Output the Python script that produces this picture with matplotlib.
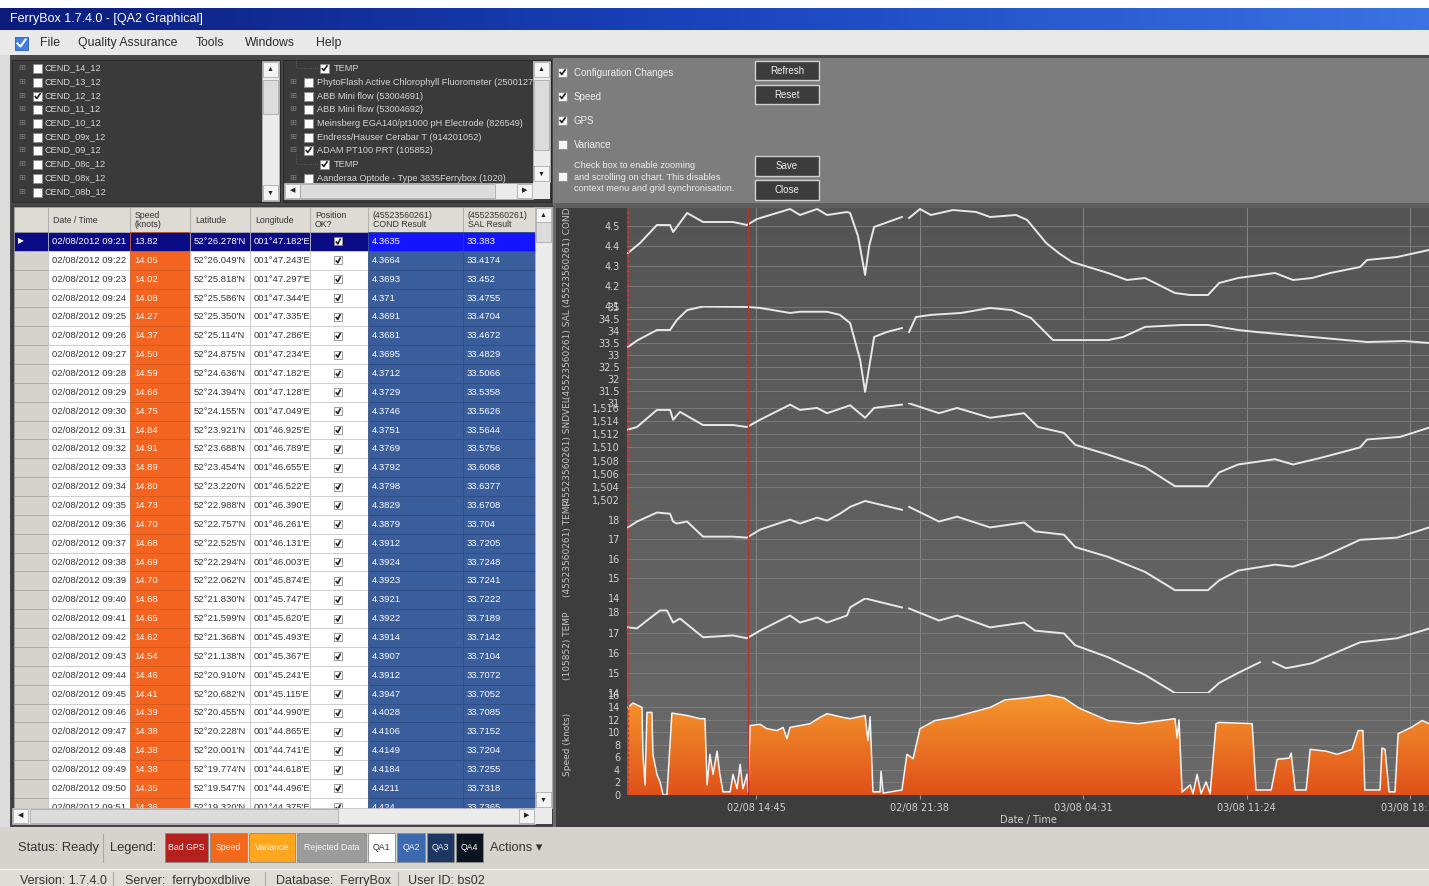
import numpy as np
import matplotlib
matplotlib.use("Agg")
import matplotlib.pyplot as plt
from matplotlib.patches import Rectangle
from matplotlib.colors import LinearSegmentedColormap
from matplotlib.ticker import FuncFormatter

nan = np.nan

# ---------------- chart data (time = hours since 02/08/2012 00:00) ----------------
cond_t = [9.36, 9.87, 10.58, 11.13, 11.26, 11.85, 12.52, 13.78, 14.37, 14.79, 16.18, 16.6,
          17.32, 17.74, 18.58, 18.71, 19.04, 19.34, 19.51, 19.72, 20.89, 21.0, 21.19, 21.65,
          22.11, 23.04, 24.01, 24.6, 25.69, 26.16, 26.96, 27.54, 28.05, 29.56, 30.36, 31.12,
          32.38, 33.02, 33.77, 34.24, 35.04, 36.59, 37.35, 38.15, 38.91, 40.17, 40.46, 41.73, 43.07]
cond_v = [4.365, 4.415, 4.505, 4.505, 4.47, 4.565, 4.52, 4.52, 4.505, 4.535, 4.585, 4.555,
          4.585, 4.555, 4.57, 4.565, 4.45, 4.255, 4.40, 4.495, 4.545, nan, 4.54, 4.585,
          4.555, 4.58, 4.57, 4.545, 4.555, 4.53, 4.415, 4.36, 4.32, 4.265, 4.23, 4.24,
          4.165, 4.155, 4.155, 4.215, 4.24, 4.265, 4.23, 4.24, 4.265, 4.295, 4.33, 4.345, 4.38]

sal_t = [9.36, 9.74, 10.58, 11.13, 11.42, 11.85, 12.52, 14.37, 14.92, 16.18, 16.6, 17.74,
         18.28, 18.71, 19.13, 19.34, 19.72, 20.26, 20.89, 21.0, 21.19, 21.48, 22.11, 23.38,
         24.6, 25.52, 26.32, 27.25, 28.05, 29.56, 30.2, 31.12, 32.68, 33.77, 35.04, 35.79,
         38.15, 40.46, 42.03, 43.07]
sal_v = [33.33, 33.6, 34.04, 34.04, 34.46, 34.87, 35.02, 35.0, 34.96, 34.75, 34.8, 34.8,
         34.67, 34.33, 32.8, 31.46, 33.75, 33.96, 34.12, nan, 33.96, 34.58, 34.67, 34.75,
         34.96, 34.87, 34.54, 33.62, 33.62, 33.62, 33.75, 34.17, 34.25, 34.25, 34.04, 33.96,
         33.75, 33.54, 33.58, 33.5]

sndvel_t = [9.36, 9.74, 10.58, 11.13, 11.26, 11.55, 12.52, 13.78, 14.37, 14.92, 16.18, 16.6,
            17.32, 17.74, 18.71, 19.34, 19.72, 20.89, 21.0, 21.19, 22.45, 23.21, 24.6, 26.03,
            26.62, 27.71, 28.18, 29.56, 31.12, 32.38, 33.77, 34.24, 35.04, 36.59, 37.35, 38.61,
            40.17, 40.46, 41.86, 43.07]
sndvel_v = [1512.7, 1513.1, 1515.7, 1515.7, 1514.2, 1515.4, 1513.4, 1513.4, 1513.1, 1514.2,
            1516.5, 1515.7, 1516.0, 1515.2, 1516.4, 1514.5, 1516.0, 1516.5, nan, 1516.7,
            1515.2, 1516.0, 1514.5, 1515.2, 1513.1, 1512.2, 1510.4, 1508.9, 1507.0, 1504.1,
            1504.1, 1506.2, 1507.4, 1508.2, 1507.4, 1508.5, 1510.0, 1511.2, 1511.6, 1513.0]

temp1_t = [9.36, 9.74, 10.58, 11.13, 11.26, 11.42, 11.85, 12.52, 13.78, 14.37, 14.92, 16.18,
           16.6, 17.32, 17.74, 18.28, 18.71, 19.34, 20.89, 21.0, 21.19, 22.45, 23.21, 24.6,
           26.03, 26.49, 27.71, 28.18, 29.56, 31.12, 32.38, 33.77, 34.24, 35.04, 36.59, 37.35,
           38.61, 40.17, 41.73, 43.07]
temp1_v = [17.6, 17.9, 18.36, 18.3, 17.9, 17.8, 17.9, 17.13, 17.13, 17.08, 17.49, 18.0,
           17.8, 18.1, 17.95, 18.3, 18.65, 18.95, 18.5, nan, 18.65, 17.9, 18.15, 17.6,
           17.85, 17.4, 17.23, 16.6, 16.1, 15.33, 14.4, 14.4, 14.9, 15.4, 15.7, 15.6,
           16.1, 16.97, 17.08, 17.6]

temp2_t = [9.36, 9.74, 10.16, 10.71, 11.0, 11.26, 11.55, 12.52, 13.78, 14.37, 14.92, 16.18,
           16.6, 17.32, 17.74, 18.58, 18.71, 19.34, 20.89, 21.0, 21.19, 22.45, 23.21, 24.6,
           26.03, 26.49, 27.71, 28.18, 29.56, 31.12, 32.38, 33.77, 34.24, 35.04, 35.96, 36.2,
           36.51, 37.06, 38.15, 38.61, 40.17, 41.73, 43.07]
temp2_v = [17.26, 17.21, 17.6, 18.1, 18.1, 17.5, 17.7, 16.77, 16.86, 16.72, 17.1, 17.85,
           17.5, 17.75, 17.5, 17.85, 18.25, 18.7, 18.25, nan, 18.2, 17.6, 17.85, 17.26,
           17.5, 17.1, 16.96, 16.37, 15.78, 14.9, 14.0, 14.0, 14.5, 15.0, 15.53, nan,
           15.53, 15.23, 15.48, 15.73, 16.52, 16.72, 17.2]

speed_t = [9.36, 9.57, 9.95, 9.99, 10.08, 10.16, 10.37, 10.41, 10.58, 10.71, 10.84, 11.0,
           11.21, 11.85, 12.39, 12.6, 12.69, 12.81, 12.94, 13.11, 13.23, 13.36, 13.66, 13.78,
           13.95, 14.08, 14.2, 14.37, 14.41, 14.5, 14.92, 15.21, 15.63, 15.89, 16.05, 16.18,
           17.02, 17.44, 17.74, 18.41, 18.71, 19.34, 19.46, 19.55, 19.67, 19.97, 20.01, 20.1,
           20.89, 21.1, 21.36, 21.65, 22.28, 23.04, 24.6, 25.23, 26.03, 27.08, 27.71, 28.34,
           29.56, 30.83, 32.38, 32.47, 32.55, 32.68, 33.02, 33.14, 33.31, 33.48, 33.69, 33.86,
           34.11, 34.24, 35.63, 35.79, 36.43, 36.68, 37.19, 37.27, 37.44, 37.9, 38.07, 38.74,
           39.2, 39.83, 40.09, 40.29, 40.37, 41.01, 41.09, 41.22, 41.39, 41.64, 41.77, 42.32,
           42.78, 43.07]
speed_v = [14.0, 14.7, 14.0, 6.5, 1.6, 13.2, 13.2, 6.5, 3.3, 2.1, 0.0, 0.0,
           13.1, 12.7, 12.2, 12.2, 1.6, 6.5, 3.3, 7.0, 3.3, 0.5, 0.5, 3.3,
           1.0, 4.9, 1.0, 3.3, 0.5, 11.1, 11.3, 10.6, 10.3, 10.8, 9.0, 10.8,
           11.4, 12.4, 13.0, 12.4, 12.2, 12.7, 8.7, 12.5, 0.5, 0.5, 3.8, 0.3,
           0.8, 6.5, 5.8, 10.6, 11.9, 12.4, 14.0, 15.2, 15.5, 16.0, 15.5, 13.9,
           11.9, 11.4, 12.2, 9.1, 12.0, 0.5, 1.6, 0.2, 3.3, 0.2, 2.1, 0.2,
           11.4, 11.6, 11.4, 0.8, 0.8, 5.7, 5.9, 6.7, 0.8, 0.8, 7.3, 7.0,
           6.5, 7.3, 10.3, 10.3, 0.8, 0.8, 7.5, 7.3, 0.5, 0.5, 9.8, 10.8,
           11.9, 11.4]

config_change_t = [9.36, 14.4]
xtick_t = [14.75, 21.633, 28.517, 35.4, 42.283]
xtick_labels = ["02/08 14:45", "02/08 21:38", "03/08 04:31", "03/08 11:24", "03/08 18:17"]
t_start, t_end = 9.32, 43.07

# ---------------- table data ----------------
tbl_time = ["02/08/2012 09:%02d" % m for m in range(21, 52)]
tbl_speed = [13.82, 14.05, 14.02, 14.08, 14.27, 14.37, 14.50, 14.59, 14.66, 14.75, 14.84,
             14.91, 14.89, 14.80, 14.73, 14.70, 14.68, 14.69, 14.70, 14.68, 14.65, 14.62,
             14.54, 14.46, 14.41, 14.39, 14.38, 14.38, 14.38, 14.35, 14.36]
tbl_lat = ["52°26.278'N", "52°26.049'N", "52°25.818'N", "52°25.586'N", "52°25.350'N",
           "52°25.114'N", "52°24.875'N", "52°24.636'N", "52°24.394'N", "52°24.155'N",
           "52°23.921'N", "52°23.688'N", "52°23.454'N", "52°23.220'N", "52°22.988'N",
           "52°22.757'N", "52°22.525'N", "52°22.294'N", "52°22.062'N", "52°21.830'N",
           "52°21.599'N", "52°21.368'N", "52°21.138'N", "52°20.910'N", "52°20.682'N",
           "52°20.455'N", "52°20.228'N", "52°20.001'N", "52°19.774'N", "52°19.547'N",
           "52°19.320'N"]
tbl_lon = ["001°47.182'E", "001°47.243'E", "001°47.297'E", "001°47.344'E", "001°47.335'E",
           "001°47.286'E", "001°47.234'E", "001°47.182'E", "001°47.128'E", "001°47.049'E",
           "001°46.925'E", "001°46.789'E", "001°46.655'E", "001°46.522'E", "001°46.390'E",
           "001°46.261'E", "001°46.131'E", "001°46.003'E", "001°45.874'E", "001°45.747'E",
           "001°45.620'E", "001°45.493'E", "001°45.367'E", "001°45.241'E", "001°45.115'E",
           "001°44.990'E", "001°44.865'E", "001°44.741'E", "001°44.618'E", "001°44.496'E",
           "001°44.375'E"]
tbl_cond = ["4.3635", "4.3664", "4.3693", "4.371", "4.3691", "4.3681", "4.3695", "4.3712",
            "4.3729", "4.3746", "4.3751", "4.3769", "4.3792", "4.3798", "4.3829", "4.3879",
            "4.3912", "4.3924", "4.3923", "4.3921", "4.3922", "4.3914", "4.3907", "4.3912",
            "4.3947", "4.4028", "4.4106", "4.4149", "4.4184", "4.4211", "4.424"]
tbl_sal = ["33.383", "33.4174", "33.452", "33.4755", "33.4704", "33.4672", "33.4829",
           "33.5066", "33.5358", "33.5626", "33.5644", "33.5756", "33.6068", "33.6377",
           "33.6708", "33.704", "33.7205", "33.7248", "33.7241", "33.7222", "33.7189",
           "33.7142", "33.7104", "33.7072", "33.7052", "33.7085", "33.7152", "33.7204",
           "33.7255", "33.7318", "33.7365"]

runs = ["CEND_14_12", "CEND_13_12", "CEND_12_12", "CEND_11_12", "CEND_10_12",
        "CEND_09x_12", "CEND_09_12", "CEND_08c_12", "CEND_08x_12", "CEND_08b_12"]
runs_checked = [False, False, True, False, False, False, False, False, False, False]
sensors = ["TEMP", "PhytoFlash Active Chlorophyll Fluorometer (2500127)",
           "ABB Mini flow (53004691)", "ABB Mini flow (53004692)",
           "Meinsberg EGA140/pt1000 pH Electrode (826549)",
           "Endress/Hauser Cerabar T (914201052)", "ADAM PT100 PRT (105852)", "TEMP",
           "Aanderaa Optode - Type 3835Ferrybox (1020)"]
sensors_indent = [1, 0, 0, 0, 0, 0, 0, 1, 0]
sensors_checked = [True, False, False, False, False, False, True, True, False]

legend_names = ["Bad GPS", "Speed", "Variance", "Rejected Data", "QA1", "QA2", "QA3", "QA4"]
legend_colors = ["#b3201d", "#f2691c", "#ffa61f", "#9c9c9c", "#ffffff", "#3d69ae", "#1d3662", "#0c1422"]

# ---------------- figure / pixel helpers ----------------
W, H = 1429, 886
UI = ["Liberation Sans", "DejaVu Sans"]
fig = plt.figure(figsize=(W / 100, H / 100), dpi=100)
ui = fig.add_axes([0, 0, 1, 1])
ui.axis("off")


def rect(x0, y0, x1, y1, fc, ec="none", lw=0.0, z=1):
    ui.add_patch(Rectangle((x0, y0), x1 - x0, y1 - y0, facecolor=fc,
                           edgecolor=ec, linewidth=lw, zorder=z))


def txt(x, y, s, size=7, color="#222222", ha="left", z=5, **kw):
    ui.text(x, y, s, fontsize=size, color=color, ha=ha, va="center",
            zorder=z, family=UI, **kw)


def checkbox(x, y, checked, s=9, z=5, fc="white"):
    rect(x, y - s / 2, x + s, y + s / 2, fc, ec="#8a8a8a", lw=0.6, z=z)
    if checked:
        ui.plot([x + 1.8, x + 3.8, x + s - 1.5], [y, y + 2.5, y - 2.8],
                color="#222222", lw=1.2, zorder=z + 0.1, solid_capstyle="butt")


def vscroll(x0, y0, x1, y1, thumb, z=6):
    rect(x0, y0, x1, y1, "#ebebeb", ec="#b8b8b8", lw=0.5, z=z)
    rect(x0 + 1, y0 + 1, x1 - 1, y0 + 16, "#f4f4f4", ec="#a0a0a0", lw=0.5, z=z)
    rect(x0 + 1, y1 - 16, x1 - 1, y1 - 1, "#f4f4f4", ec="#a0a0a0", lw=0.5, z=z)
    rect(x0 + 1, thumb[0], x1 - 1, thumb[1], "#dcdcdc", ec="#a0a0a0", lw=0.5, z=z)
    cx = (x0 + x1) / 2
    txt(cx, y0 + 8.5, "▲", size=5, ha="center", z=z + 1)
    txt(cx, y1 - 8, "▼", size=5, ha="center", z=z + 1)


def hscroll(x0, y0, x1, y1, thumb, z=6):
    rect(x0, y0, x1, y1, "#ebebeb", ec="#b8b8b8", lw=0.5, z=z)
    rect(x0 + 1, y0 + 1, x0 + 16, y1 - 1, "#f4f4f4", ec="#a0a0a0", lw=0.5, z=z)
    rect(x1 - 16, y0 + 1, x1 - 1, y1 - 1, "#f4f4f4", ec="#a0a0a0", lw=0.5, z=z)
    rect(thumb[0], y0 + 1, thumb[1], y1 - 1, "#dcdcdc", ec="#a0a0a0", lw=0.5, z=z)
    cy = (y0 + y1) / 2
    txt(x0 + 8.5, cy, "◀", size=5, ha="center", z=z + 1)
    txt(x1 - 8.5, cy, "▶", size=5, ha="center", z=z + 1)


# ---------------- window chrome ----------------
rect(0, 0, W, H, "white", z=0)
title_cmap = LinearSegmentedColormap.from_list("tb", ["#0b1c7c", "#1a44bd", "#3b73e2"])
ui.imshow(np.linspace(0, 1, 256).reshape(1, -1), extent=[0, W, 30, 8], cmap=title_cmap,
          aspect="auto", zorder=0.5)
txt(10, 19, "FerryBox 1.7.4.0 - [QA2 Graphical]", size=9, color="white")
rect(0, 30, W, 55, "#e9e9e9")
rect(15, 37, 28, 50, "#3f7fe0", ec="#2a5cb0", lw=0.6, z=2)
ui.plot([17.5, 20.5, 25.5], [43.5, 46.5, 39.5], color="white", lw=1.5, zorder=3)
for label, x in zip(["File", "Quality Assurance", "Tools", "Windows", "Help"],
                    [40, 78, 196, 245, 316]):
    txt(x, 43, label, size=8.8, color="#2a2a2a")

rect(0, 55, W, 828, "#4a4a4a")
rect(0, 55, 10, 828, "#dcdcdc")

# top-left run tree
rect(12, 60, 280, 202, "#3a3a3a", ec="#2a2a2a", lw=0.8)
tree_y = [68, 82, 96, 109, 123, 137, 150, 164, 178, 192]
for name, chk, y in zip(runs, runs_checked, tree_y):
    txt(22, y, "⊞", size=6, color="#7a7a7a", ha="center")
    checkbox(33, y, chk)
    txt(45, y, name, size=6.6, color="#d6d6d6")
vscroll(262, 61, 279, 201, (80, 114))

# top-middle sensor tree
rect(283, 60, 551, 202, "#3a3a3a", ec="#2a2a2a", lw=0.8)
for name, ind, chk, y in zip(sensors, sensors_indent, sensors_checked, tree_y[:9]):
    if ind:
        ui.plot([296, 296, 318], [y - 10, y, y], color="#666666", lw=0.6, ls=":", zorder=4)
        checkbox(320, y, chk)
        txt(334, y, name, size=6.6, color="#d6d6d6")
    else:
        txt(293, y, "⊟" if chk else "⊞", size=6, color="#7a7a7a", ha="center")
        checkbox(304, y, chk)
        txt(317, y, name, size=6.6, color="#d6d6d6")
vscroll(533, 61, 550, 182, (80, 150), z=6)
hscroll(284, 183, 533, 199, (300, 495), z=6)
rect(533, 182, 550, 199, "#ebebeb", z=6)

# top-right options panel
rect(553, 58, W, 203, "#7d7d7d")
for label, chk, y in zip(["Configuration Changes", "Speed", "GPS", "Variance"],
                         [True, True, True, False], [72, 96, 120, 144]):
    checkbox(558, y, chk, fc="#f4f4f4")
    txt(574, y + 1, label, size=7, color="#eeeeee")
checkbox(558, 176, False, fc="#f4f4f4")
txt(574, 177, "Check box to enable zooming\nand scrolling on chart. This disables\n"
    "context menu and grid synchronisation.", size=6.6, color="#eeeeee", linespacing=1.3)
for label, y0, y1 in [("Refresh", 61, 80), ("Reset", 85, 104), ("Save", 156, 176), ("Close", 180, 200)]:
    rect(755, y0, 819, y1, "#3c3c3c", ec="#d0d0d0", lw=1.0, z=3)
    txt(787, (y0 + y1) / 2, label, size=7, color="#f0f0f0", ha="center")

# ---------------- data table ----------------
rect(11, 205, 553, 826, "#404040")
col_edges = [14, 48, 130, 190, 250, 310, 368, 463, 535]
headers = ["", "Date / Time", "Speed\n(knots)", "Latitude", "Longitude", "Position\nOK?",
           "(45523560261)\nCOND Result", "(45523560261)\nSAL Result"]
for i, h in enumerate(headers):
    rect(col_edges[i], 207, col_edges[i + 1], 232, "#dedbd4", ec="#a8a8a8", lw=0.5, z=2)
    txt(col_edges[i] + 5, 220, h, size=6.3, color="#333333", linespacing=0.9)

row_top, row_h = 232, 18.86
for r in range(len(tbl_time)):
    y0 = row_top + r * row_h
    y1 = y0 + row_h
    yc = (y0 + y1) / 2
    sel = r == 0
    white = "#0b0b86" if sel else "#ffffff"
    dark = "white" if sel else "#333333"
    fills = ["#0b0b86" if sel else "#d6d3cc", white, "#0b0b86" if sel else "#f26420",
             white, white, white, "#1414ff" if sel else "#3a5d9c", "#1414ff" if sel else "#3a5d9c"]
    edges = ["#a8a8a8", "#c8c8c8", "#d85a1c", "#c8c8c8", "#c8c8c8", "#c8c8c8", "#2d4c84", "#2d4c84"]
    for c in range(8):
        rect(col_edges[c], y0, col_edges[c + 1], y1, fills[c], ec=edges[c], lw=0.5, z=2)
    vals = [tbl_time[r], "%.2f" % tbl_speed[r], tbl_lat[r], tbl_lon[r], None, tbl_cond[r], tbl_sal[r]]
    colors = [dark, "white", dark, dark, None, "white", "white"]
    for c, (v, col) in enumerate(zip(vals, colors)):
        if v is not None:
            txt(col_edges[c + 1] + 4, yc, v, size=6.8, color=col, z=4)
    checkbox(334, yc, True, s=8, z=4)
    if sel:
        txt(21, yc, "▶", size=5.5, color="white", ha="center", z=4)
vscroll(535, 207, 552, 808, (222, 242))
hscroll(12, 808, 535, 824, (30, 338))
rect(535, 808, 552, 824, "#ebebeb", z=6)

# ---------------- chart ----------------
rect(553, 203, 556, 827, "#6a6a6a", z=1)
rect(556, 203, W, 827, "#3d3d3d", z=1)
rect(556, 203, W, 208, "#5e5e5e", z=1.5)
plot_x0, plot_x1, plot_y0, plot_y1 = 627, W, 208, 795
bg_cmap = LinearSegmentedColormap.from_list("bg", ["#545454", "#6a6a6a"])
ui.imshow(np.linspace(0, 1, 256).reshape(-1, 1), extent=[plot_x0, plot_x1, plot_y1, plot_y0],
          cmap=bg_cmap, aspect="auto", zorder=1.6)

fmt_g = FuncFormatter(lambda v, p: "%g" % v)
fmt_comma = FuncFormatter(lambda v, p: "{:,.0f}".format(v))
panels = [
    ("(45523560261) COND", 208, 306, (4.1, 4.59), [4.1, 4.2, 4.3, 4.4, 4.5], fmt_g, cond_t, cond_v),
    ("(45523560261) SAL", 306, 403, (31, 35.04), list(np.arange(31, 35.01, 0.5)), fmt_g, sal_t, sal_v),
    ("(45523560261) SNDVEL", 403, 500, (1502.2, 1516.75), list(range(1502, 1517, 2)), fmt_comma,
     sndvel_t, sndvel_v),
    ("(45523560261) TEMP", 500, 598, (14, 19.0), [14, 15, 16, 17, 18], fmt_g, temp1_t, temp1_v),
    ("(105852) TEMP", 598, 693, (14, 18.72), [14, 15, 16, 17, 18], fmt_g, temp2_t, temp2_v),
    ("Speed (knots)", 693, 795, (0, 16.3), list(range(0, 17, 2)), fmt_g, speed_t, speed_v),
]
axes = []
for label, top, bot, ylim, ticks, fmt, t, v in panels:
    ax = fig.add_axes([plot_x0 / W, 1 - bot / H, (plot_x1 - plot_x0) / W, (bot - top) / H])
    ax.set_facecolor("none")
    for s in ax.spines.values():
        s.set_visible(False)
    ax.set_xlim(t_start, t_end)
    ax.set_ylim(*ylim)
    ax.set_yticks(ticks)
    ax.yaxis.set_major_formatter(fmt)
    ax.set_xticks(xtick_t)
    ax.tick_params(axis="y", length=0, pad=5, labelsize=7, labelcolor="#d2d2d2")
    ax.tick_params(axis="x", length=0, labelbottom=False)
    ax.grid(True, axis="y", color="#7e7e7e", lw=0.6)
    ax.grid(True, axis="x", color="#8c8c8c", lw=0.6)
    ax.set_ylabel(label, fontsize=6.5, color="#c4c4c4")
    ax.yaxis.set_label_coords(-0.068, 0.5)
    if label.startswith("Speed"):
        poly = ax.fill_between(t, 0, v, facecolor="#ec7420", edgecolor="none", zorder=2)
        orange = LinearSegmentedColormap.from_list("or", ["#e0511a", "#f5992d"])
        im = ax.imshow(np.linspace(0, 1, 256).reshape(-1, 1), extent=[t_start, t_end, 0, 16.3],
                       origin="lower", aspect="auto", cmap=orange, zorder=2.5)
        im.set_clip_path(poly.get_paths()[0], transform=ax.transData)
        ax.set_xlim(t_start, t_end)
        ax.set_ylim(*ylim)
        ax.plot(t, v, color="#f4f4f4", lw=1.1, zorder=3)
    else:
        ax.plot(t, v, color="#e8e8e8", lw=1.4, zorder=3)
    ax.axvline(config_change_t[0], color="#d23a32", lw=1.0, ls=(0, (2, 1.5)), zorder=4)
    ax.axvline(config_change_t[1], color="#b8332f", lw=1.0, zorder=4)
    axes.append(ax)

axes[-1].tick_params(axis="x", length=3, color="#9a9a9a", labelbottom=True, labelsize=7,
                     labelcolor="#d2d2d2", pad=3)
axes[-1].set_xticklabels(xtick_labels)
axes[-1].set_xlabel("Date / Time", fontsize=7, color="#d2d2d2", labelpad=1)

# ---------------- status / version bars ----------------
rect(0, 827, W, 869, "#d6d3cc", z=2)
rect(0, 869, W, H, "#dfddd7", z=2)
ui.plot([0, W], [869, 869], color="#f4f4f4", lw=1, zorder=3)
txt(18, 848, "Status: Ready", size=9.3, color="#333333", z=4)
ui.plot([103, 103], [834, 862], color="#a8a8a8", lw=0.8, zorder=4)
txt(110, 848, "Legend:", size=9.3, color="#333333", z=4)
leg_edges = [164, 209, 248, 296, 367, 396, 426, 455, 484]
for i, (name, col) in enumerate(zip(legend_names, legend_colors)):
    rect(leg_edges[i] + 1, 833, leg_edges[i + 1] - 1, 862, col, ec="#8a8a8a", lw=0.6, z=3)
    txt((leg_edges[i] + leg_edges[i + 1]) / 2, 848, name, size=6.3,
        color="#333333" if name == "QA1" else "#f4f4f4", ha="center", z=4)
txt(490, 848, "Actions ▾", size=9.3, color="#333333", z=4)
for label, x in [("Version: 1.7.4.0", 20), ("Server:  ferryboxdblive", 125),
                 ("Database:  FerryBox", 276), ("User ID: bs02", 408)]:
    txt(x, 881, label, size=9, color="#333333", z=4)
for x in [113, 265, 398]:
    ui.plot([x, x], [872, 886], color="#a8a8a8", lw=0.8, zorder=4)

ui.set_xlim(0, W)
ui.set_ylim(H, 0)
fig.savefig("out.png", dpi=100)
